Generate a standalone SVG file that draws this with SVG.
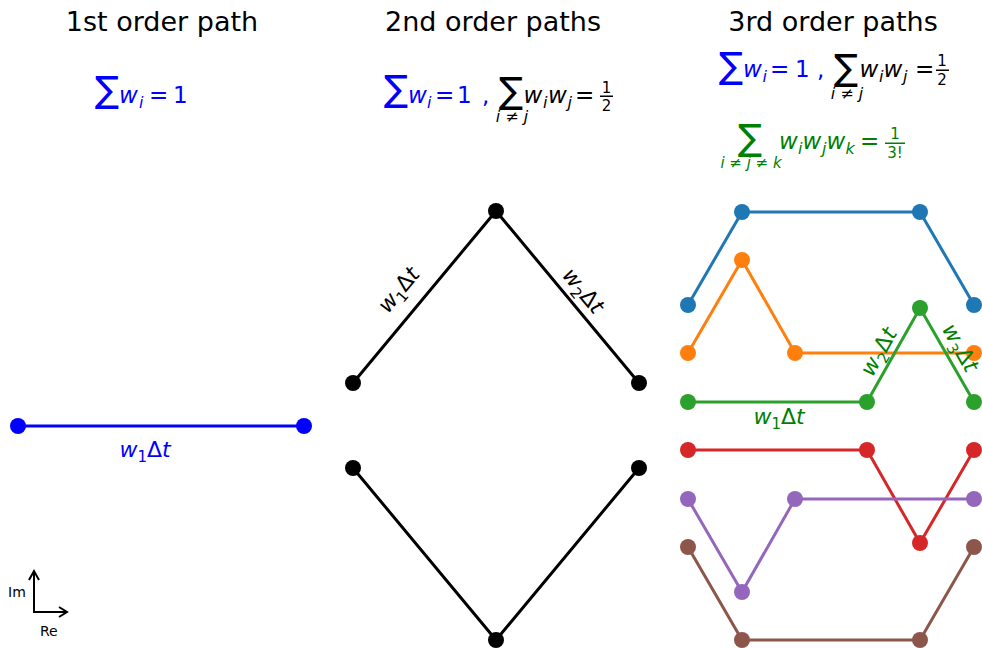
<svg xmlns="http://www.w3.org/2000/svg" width="982" height="648" viewBox="0 0 982 648">
<style>
text{font-family:"DejaVu Sans","Liberation Sans",sans-serif;}
.title{font-size:27px;fill:#000;text-anchor:middle}
.m{font-size:23px}
.s{font-size:16px}
.f{font-size:15px;text-anchor:middle}
.sig{font-size:36px}
.it{font-style:italic}
.lbl{font-size:22px;text-anchor:middle}
.ax{font-size:14px;fill:#000}
.ln{fill:none;stroke-width:3;stroke-linejoin:round;stroke-linecap:butt}
</style>
<rect width="982" height="648" fill="#fff"/>
<!-- titles -->
<text class="title" x="162" y="31">1st order path</text>
<text class="title" x="493" y="31">2nd order paths</text>
<text class="title" x="833" y="31">3rd order paths</text>

<!-- formula 1 -->
<g id="formula1" fill="#0000ff">
<text class="sig" x="95" y="102">∑</text>
<text class="m it" x="119" y="103">w</text>
<text class="s it" x="139" y="108">i</text>
<text class="m" x="149" y="103">=</text>
<text class="m" x="173" y="103">1</text>
</g>

<!-- formula 2 -->
<g id="formula2">
<g fill="#0000ff">
<text class="sig" x="384" y="101">∑</text>
<text class="m it" x="408" y="103">w</text>
<text class="s it" x="427" y="108">i</text>
<text class="m" x="435" y="103">=</text>
<text class="m" x="457" y="103">1</text>
<text class="m" x="482" y="103">,</text>
</g>
<g fill="#000">
<text class="sig" x="499" y="103">∑</text>
<text class="s" x="512" y="122" text-anchor="middle"><tspan class="it">i</tspan> ≠ <tspan class="it">j</tspan></text>
<text class="m it" x="523.5" y="103">w</text>
<text class="s it" x="543" y="108">i</text>
<text class="m it" x="548" y="103">w</text>
<text class="s it" x="567.5" y="108">j</text>
<text class="m" x="575" y="103">=</text>
<text class="f" x="606.5" y="93">1</text>
<rect x="600" y="95.5" width="13" height="1.5"/>
<text class="f" x="606.5" y="111">2</text>
</g>
</g>

<!-- formula 3 -->
<g id="formula3">
<g fill="#0000ff">
<text class="sig" x="719" y="78">∑</text>
<text class="m it" x="743" y="77">w</text>
<text class="s it" x="762.5" y="82">i</text>
<text class="m" x="770" y="77">=</text>
<text class="m" x="795" y="77">1</text>
<text class="m" x="817" y="77">,</text>
</g>
<g fill="#000">
<text class="sig" x="834" y="80">∑</text>
<text class="s" x="847" y="99" text-anchor="middle"><tspan class="it">i</tspan> ≠ <tspan class="it">j</tspan></text>
<text class="m it" x="859.5" y="77">w</text>
<text class="s it" x="879" y="82">i</text>
<text class="m it" x="883.5" y="77">w</text>
<text class="s it" x="903" y="82">j</text>
<text class="m" x="915" y="77">=</text>
<text class="f" x="942" y="66">1</text>
<rect x="936" y="69.5" width="13" height="1.5"/>
<text class="f" x="942" y="85">2</text>
</g>
</g>

<!-- formula 4 (green) -->
<g id="formula4" fill="#008000">
<text class="sig" x="738" y="150">∑</text>
<text class="f" x="751" y="168"><tspan class="it">i</tspan> ≠ <tspan class="it">j</tspan> ≠ <tspan class="it">k</tspan></text>
<text class="m it" x="779" y="149">w</text>
<text class="s it" x="798" y="154">i</text>
<text class="m it" x="802.5" y="149">w</text>
<text class="s it" x="822" y="154">j</text>
<text class="m it" x="826.5" y="149">w</text>
<text class="s it" x="845.5" y="154">k</text>
<text class="m" x="860" y="149">=</text>
<text class="f" x="895" y="139">1</text>
<rect x="885" y="142.5" width="20" height="1.5"/>
<text class="f" x="895" y="158">3!</text>
</g>

<!-- 1st order path -->
<g id="path1" fill="#0000ff">
<polyline class="ln" stroke="#0000ff" points="18,426 304,426"/>
<circle cx="18" cy="426" r="8"/><circle cx="304" cy="426" r="8"/>
</g>

<!-- 2nd order paths -->
<g id="path2a" fill="#000">
<polyline class="ln" stroke="#000" points="353,383 496,211 639,383"/>
<circle cx="353" cy="383" r="8"/><circle cx="496" cy="211" r="8"/><circle cx="639" cy="383" r="8"/>
</g>
<g id="path2b" fill="#000">
<polyline class="ln" stroke="#000" points="353,468 496,640 639,468"/>
<circle cx="353" cy="468" r="8"/><circle cx="496" cy="640" r="8"/><circle cx="639" cy="468" r="8"/>
</g>

<!-- 3rd order paths -->
<g id="path3a" fill="#1f77b4">
<polyline class="ln" stroke="#1f77b4" points="688,305 742,212 920,212 974,305"/>
<circle cx="688" cy="305" r="8"/><circle cx="742" cy="212" r="8"/><circle cx="920" cy="212" r="8"/><circle cx="974" cy="305" r="8"/>
</g>
<g id="path3b" fill="#ff7f0e">
<polyline class="ln" stroke="#ff7f0e" points="688,353 742,260 795,353 974,353"/>
<circle cx="688" cy="353" r="8"/><circle cx="742" cy="260" r="8"/><circle cx="795" cy="353" r="8"/><circle cx="974" cy="353" r="8"/>
</g>
<g id="path3c" fill="#2ca02c">
<polyline class="ln" stroke="#2ca02c" points="688,402 867,402 920,308 974,402"/>
<circle cx="688" cy="402" r="8"/><circle cx="867" cy="402" r="8"/><circle cx="920" cy="308" r="8"/><circle cx="974" cy="402" r="8"/>
</g>
<g id="path3d" fill="#d62728">
<polyline class="ln" stroke="#d62728" points="688,450 867,450 920,543 974,450"/>
<circle cx="688" cy="450" r="8"/><circle cx="867" cy="450" r="8"/><circle cx="920" cy="543" r="8"/><circle cx="974" cy="450" r="8"/>
</g>
<g id="path3e" fill="#9467bd">
<polyline class="ln" stroke="#9467bd" points="688,499 742,592 795,499 974,499"/>
<circle cx="688" cy="499" r="8"/><circle cx="742" cy="592" r="8"/><circle cx="795" cy="499" r="8"/><circle cx="974" cy="499" r="8"/>
</g>
<g id="path3f" fill="#8c564b">
<polyline class="ln" stroke="#8c564b" points="688,547 742,640 920,640 974,547"/>
<circle cx="688" cy="547" r="8"/><circle cx="742" cy="640" r="8"/><circle cx="920" cy="640" r="8"/><circle cx="974" cy="547" r="8"/>
</g>

<!-- edge labels -->
<g id="labels">
<text class="lbl" x="145" y="457" fill="#0000ff"><tspan class="it">w</tspan><tspan font-size="15" dy="5">1</tspan><tspan dy="-5">Δ</tspan><tspan class="it">t</tspan></text>
<g transform="translate(399,290) rotate(-50.3)"><text class="lbl" x="0" y="7" fill="#000"><tspan class="it">w</tspan><tspan font-size="15" dy="5">1</tspan><tspan dy="-5">Δ</tspan><tspan class="it">t</tspan></text></g>
<g transform="translate(583,291) rotate(50.3)"><text class="lbl" x="0" y="7" fill="#000"><tspan class="it">w</tspan><tspan font-size="15" dy="5">2</tspan><tspan dy="-5">Δ</tspan><tspan class="it">t</tspan></text></g>
<text class="lbl" x="779" y="424" fill="#008000"><tspan class="it">w</tspan><tspan font-size="15" dy="5">1</tspan><tspan dy="-5">Δ</tspan><tspan class="it">t</tspan></text>
<g transform="translate(879,352) rotate(-60.8)"><text class="lbl" x="0" y="7" fill="#008000"><tspan class="it">w</tspan><tspan font-size="15" dy="5">2</tspan><tspan dy="-5">Δ</tspan><tspan class="it">t</tspan></text></g>
<g transform="translate(960,348) rotate(60.8)"><text class="lbl" x="0" y="7" fill="#008000"><tspan class="it">w</tspan><tspan font-size="15" dy="5">3</tspan><tspan dy="-5">Δ</tspan><tspan class="it">t</tspan></text></g>
</g>

<!-- axes indicator -->
<g id="axes" fill="none" stroke="#000" stroke-width="2" stroke-linejoin="miter">
<line x1="34" y1="612" x2="34" y2="571"/>
<polyline points="29,580 34,571 39,580"/>
<line x1="33" y1="612" x2="67" y2="612"/>
<polyline points="59,607 67,612 59,617"/>
</g>
<text class="ax" x="8" y="597">Im</text>
<text class="ax" x="40" y="636">Re</text>
</svg>
